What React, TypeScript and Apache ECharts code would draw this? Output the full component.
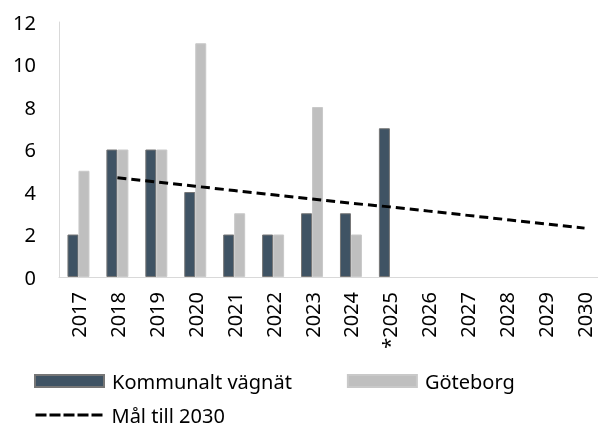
import React, { useEffect, useRef } from "react";
import * as echarts from "echarts";

const years = ["2017", "2018", "2019", "2020", "2021", "2022", "2023", "2024", "2025", "2026", "2027", "2028", "2029", "2030"];
const yearLabels = ["2017", "2018", "2019", "2020", "2021", "2022", "2023", "2024", "*2025", "2026", "2027", "2028", "2029", "2030"];
const kommunalt = [2, 6, 6, 4, 2, 2, 3, 3, 7, null, null, null, null, null];
const goteborg = [5, 6, 6, 11, 3, 2, 8, 2, null, null, null, null, null, null];
const mal = [null, 4.67, 4.47, 4.27, 4.07, 3.87, 3.67, 3.47, 3.3, 3.1, 2.9, 2.7, 2.5, 2.3];
const yTicks = [0, 2, 4, 6, 8, 10, 12];

const FONT = "Noto Sans";

export default function App() {
  const ref = useRef<HTMLDivElement>(null);
  useEffect(() => {
    if (!ref.current) return;
    const chart = echarts.init(ref.current, undefined, { renderer: "svg" });
    chart.setOption({
      animation: false,
      grid: { left: 59, right: -6, top: 22, bottom: 150, containLabel: false, outerBoundsMode: "none" },
      legend: [
        {
          data: [
            { name: "Kommunalt vägnät", icon: "rect" },
            { name: "Göteborg", icon: "rect" },
          ],
          left: 34,
          top: 369,
          padding: 0,
          itemWidth: 69,
          itemHeight: 12,
          itemGap: 55,
          textStyle: { fontFamily: FONT, fontSize: 20, lineHeight: 24, color: "#000", padding: [0, 0, 0, 3] },
        },
        {
          data: ["Mål till 2030"],
          left: 34,
          top: 404,
          padding: 0,
          itemWidth: 68,
          itemHeight: 12,
          itemStyle: { opacity: 0 },
          lineStyle: { width: 3, type: [11, 3], color: "#000" },
          textStyle: { fontFamily: FONT, fontSize: 20, lineHeight: 22, color: "#000", padding: [0, 0, 0, 3] },
        },
      ],
      xAxis: {
        type: "category",
        data: years,
        axisLine: { lineStyle: { color: "#d9d9d9", width: 1 } },
        axisTick: { show: false },
        axisLabel: {
          rotate: 90,
          margin: 15,
          fontFamily: FONT,
          fontSize: 20,
          lineHeight: 20,
          color: "#000",
          interval: 0,
          formatter: (_v: string, i: number) => yearLabels[i],
        },
      },
      yAxis: {
        type: "value",
        min: yTicks[0],
        max: yTicks[yTicks.length - 1],
        interval: 2,
        axisLine: { show: true, lineStyle: { color: "#d9d9d9", width: 1 } },
        axisTick: { show: false },
        splitLine: { show: false },
        axisLabel: { margin: 23, fontFamily: FONT, fontSize: 20, color: "#000" },
      },
      series: [
        {
          name: "Kommunalt vägnät",
          type: "bar",
          data: kommunalt,
          barWidth: 11,
          barGap: "0%",
          itemStyle: { color: "#3f5364", borderColor: "#767676", borderWidth: 1 },
        },
        {
          name: "Göteborg",
          type: "bar",
          data: goteborg,
          barWidth: 11,
          itemStyle: { color: "#bfbfbf", borderColor: "#c9c9c9", borderWidth: 1 },
        },
        {
          name: "Mål till 2030",
          type: "line",
          data: mal,
          symbol: "none",
          connectNulls: false,
          lineStyle: { color: "#000", width: 3, type: [9, 5] },
          itemStyle: { color: "#000" },
        },
      ],
    });
    return () => chart.dispose();
  }, []);
  return <div ref={ref} style={{ position: "fixed", left: 0, top: 0, width: 598, height: 427 }} />;
}
